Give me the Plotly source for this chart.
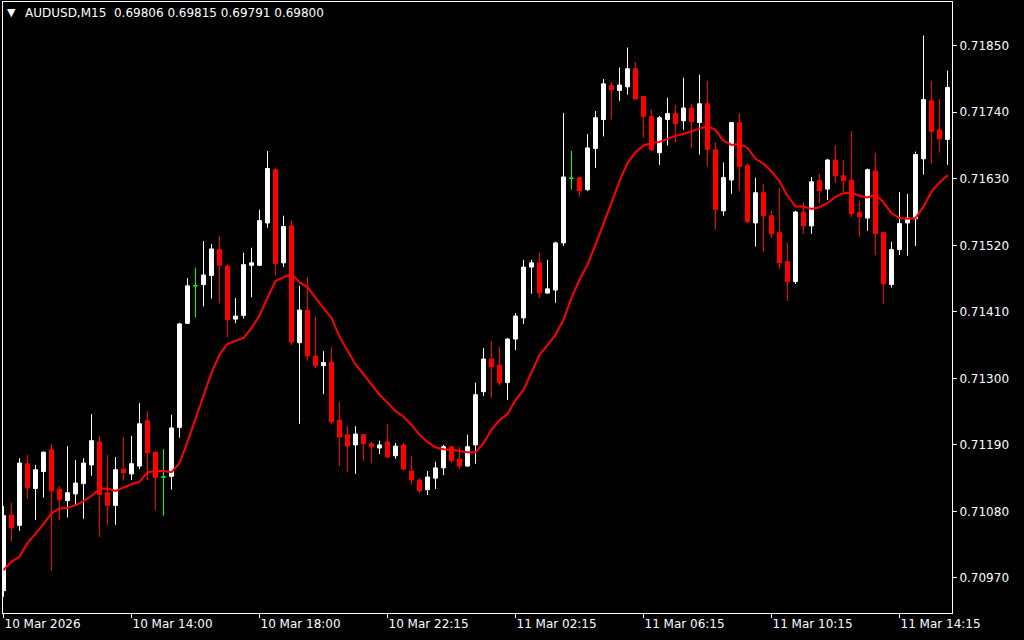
import plotly.graph_objects as go

# ---- data (AUDUSD M15) ----
opens = [0.70949, 0.71074, 0.71057, 0.71159, 0.71118, 0.71146, 0.71182, 0.71117, 0.71098, 0.71109,
         0.71126, 0.71157, 0.71195, 0.71111, 0.71090, 0.71150, 0.71142, 0.71155, 0.71230, 0.71178,
         0.71137, 0.71138, 0.71219, 0.71391, 0.71453, 0.71455, 0.71470, 0.71513, 0.71486, 0.71398,
         0.71404, 0.71487, 0.71487, 0.71557, 0.71645, 0.71491, 0.71552, 0.71359, 0.71413, 0.71337,
         0.71321, 0.71327, 0.71231, 0.71207, 0.71190, 0.71207, 0.71192, 0.71185, 0.71195, 0.71172,
         0.71190, 0.71147, 0.71132, 0.71116, 0.71135, 0.71152, 0.71187, 0.71167, 0.71155, 0.71190,
         0.71278, 0.71332, 0.71322, 0.71293, 0.71365, 0.71400, 0.71484, 0.71491, 0.71441, 0.71446,
         0.71524, 0.71631, 0.71632, 0.71612, 0.71680, 0.71728, 0.71784, 0.71776, 0.71782, 0.71812,
         0.71766, 0.71733, 0.71673, 0.71728, 0.71738, 0.71726, 0.71747, 0.71723, 0.71754, 0.71678,
         0.71577, 0.71628, 0.71723, 0.71652, 0.71557, 0.71607, 0.71569, 0.71541, 0.71493, 0.71460,
         0.71575, 0.71552, 0.71627, 0.71613, 0.71661, 0.71635, 0.71628, 0.71574, 0.71565, 0.71643,
         0.71541, 0.71455, 0.71513, 0.71557, 0.71564, 0.71663, 0.71759, 0.71711, 0.71695]
highs = [0.71089, 0.71094, 0.71168, 0.71173, 0.71157, 0.71179, 0.71192, 0.71122, 0.71188, 0.71165,
         0.71168, 0.71241, 0.71205, 0.71173, 0.71170, 0.71203, 0.71205, 0.71259, 0.71246, 0.71180,
         0.71183, 0.71240, 0.71392, 0.71466, 0.71483, 0.71527, 0.71522, 0.71536, 0.71488, 0.71433,
         0.71508, 0.71516, 0.71579, 0.71676, 0.71647, 0.71569, 0.71561, 0.71453, 0.71468, 0.71402,
         0.71345, 0.71352, 0.71261, 0.71221, 0.71221, 0.71208, 0.71195, 0.71197, 0.71225, 0.71193,
         0.71193, 0.71172, 0.71135, 0.71147, 0.71162, 0.71190, 0.71188, 0.71187, 0.71207, 0.71293,
         0.71350, 0.71362, 0.71352, 0.71367, 0.71408, 0.71496, 0.71496, 0.71508, 0.71496, 0.71526,
         0.71739, 0.71676, 0.71633, 0.71704, 0.71742, 0.71795, 0.71790, 0.71814, 0.71847, 0.71823,
         0.71767, 0.71744, 0.71734, 0.71764, 0.71752, 0.71797, 0.71754, 0.71802, 0.71792, 0.71690,
         0.71657, 0.71724, 0.71738, 0.71655, 0.71632, 0.71622, 0.71577, 0.71615, 0.71524, 0.71577,
         0.71590, 0.71633, 0.71638, 0.71663, 0.71685, 0.71661, 0.71709, 0.71594, 0.71647, 0.71673,
         0.71542, 0.71526, 0.71608, 0.71605, 0.71675, 0.71867, 0.71792, 0.71762, 0.71809]
lows = [0.70939, 0.71030, 0.71048, 0.71101, 0.71066, 0.71103, 0.70982, 0.71065, 0.71070, 0.71090,
        0.71068, 0.71139, 0.71038, 0.71058, 0.71058, 0.71131, 0.71132, 0.71150, 0.71132, 0.71082,
        0.71073, 0.71116, 0.71202, 0.71390, 0.71401, 0.71419, 0.71432, 0.71424, 0.71368, 0.71391,
        0.71399, 0.71434, 0.71486, 0.71549, 0.71470, 0.71484, 0.71355, 0.71225, 0.71329, 0.71317,
        0.71274, 0.71225, 0.71155, 0.71145, 0.71142, 0.71164, 0.71160, 0.71175, 0.71168, 0.71167,
        0.71149, 0.71124, 0.71111, 0.71107, 0.71117, 0.71140, 0.71160, 0.71150, 0.71154, 0.71159,
        0.71271, 0.71268, 0.71288, 0.71264, 0.71347, 0.71390, 0.71440, 0.71433, 0.71440, 0.71425,
        0.71519, 0.71612, 0.71600, 0.71610, 0.71648, 0.71700, 0.71728, 0.71759, 0.71769, 0.71761,
        0.71698, 0.71676, 0.71653, 0.71685, 0.71690, 0.71711, 0.71680, 0.71670, 0.71650, 0.71546,
        0.71569, 0.71605, 0.71610, 0.71557, 0.71518, 0.71509, 0.71532, 0.71481, 0.71428, 0.71456,
        0.71539, 0.71539, 0.71590, 0.71595, 0.71623, 0.71608, 0.71567, 0.71534, 0.71544, 0.71504,
        0.71423, 0.71450, 0.71504, 0.71503, 0.71519, 0.71637, 0.71655, 0.71673, 0.71653]
closes = [0.71073, 0.71053, 0.71160, 0.71119, 0.71149, 0.71178, 0.71114, 0.71100, 0.71111, 0.71127,
          0.71160, 0.71197, 0.71108, 0.71090, 0.71149, 0.71144, 0.71159, 0.71225, 0.71177, 0.71136,
          0.71137, 0.71218, 0.71390, 0.71453, 0.71453, 0.71471, 0.71514, 0.71487, 0.71397, 0.71403,
          0.71488, 0.71491, 0.71561, 0.71647, 0.71490, 0.71551, 0.71360, 0.71413, 0.71337, 0.71321,
          0.71326, 0.71228, 0.71203, 0.71188, 0.71208, 0.71192, 0.71187, 0.71190, 0.71170, 0.71188,
          0.71150, 0.71132, 0.71114, 0.71137, 0.71152, 0.71187, 0.71164, 0.71155, 0.71187, 0.71273,
          0.71332, 0.71319, 0.71293, 0.71365, 0.71403, 0.71484, 0.71491, 0.71441, 0.71448, 0.71524,
          0.71633, 0.71631, 0.71610, 0.71681, 0.71731, 0.71787, 0.71777, 0.71785, 0.71812, 0.71762,
          0.71733, 0.71678, 0.71731, 0.71738, 0.71721, 0.71747, 0.71724, 0.71754, 0.71678, 0.71579,
          0.71632, 0.71723, 0.71650, 0.71559, 0.71607, 0.71569, 0.71539, 0.71491, 0.71460, 0.71575,
          0.71552, 0.71625, 0.71610, 0.71661, 0.71635, 0.71627, 0.71572, 0.71567, 0.71645, 0.71539,
          0.71456, 0.71513, 0.71556, 0.71565, 0.71670, 0.71761, 0.71708, 0.71696, 0.71781]
ma_values = [0.70983, 0.70997, 0.71005, 0.71028, 0.71043, 0.71059, 0.71077, 0.71085, 0.71086, 0.71090,
             0.71097, 0.71106, 0.71117, 0.71118, 0.71114, 0.71120, 0.71125, 0.71129, 0.71145, 0.71147,
             0.71147, 0.71145, 0.71160, 0.71195, 0.71234, 0.71273, 0.71309, 0.71339, 0.71357, 0.71362,
             0.71367, 0.71383, 0.71404, 0.71433, 0.71461, 0.71467, 0.71473, 0.71459, 0.71451, 0.71433,
             0.71417, 0.71400, 0.71369, 0.71346, 0.71323, 0.71307, 0.71289, 0.71273, 0.71260, 0.71246,
             0.71237, 0.71223, 0.71207, 0.71195, 0.71186, 0.71183, 0.71182, 0.71180, 0.71178, 0.71178,
             0.71193, 0.71215, 0.71231, 0.71241, 0.71264, 0.71281, 0.71311, 0.71339, 0.71355, 0.71372,
             0.71397, 0.71433, 0.71463, 0.71488, 0.71521, 0.71554, 0.71590, 0.71626, 0.71656, 0.71674,
             0.71685, 0.71689, 0.71691, 0.71696, 0.71701, 0.71704, 0.71709, 0.71713, 0.71717, 0.71711,
             0.71693, 0.71686, 0.71688, 0.71681, 0.71663, 0.71655, 0.71642, 0.71626, 0.71602, 0.71584,
             0.71584, 0.71580, 0.71583, 0.71590, 0.71600, 0.71606, 0.71607, 0.71602, 0.71599, 0.71604,
             0.71591, 0.71573, 0.71565, 0.71564, 0.71565, 0.71584, 0.71609, 0.71624, 0.71636]

time_tick_bars = [0, 16, 32, 48, 64, 80, 96, 112]
time_tick_labels = ["10 Mar 2026", "10 Mar 14:00", "10 Mar 18:00", "10 Mar 22:15",
                    "11 Mar 02:15", "11 Mar 06:15", "11 Mar 10:15", "11 Mar 14:15"]
price_ticks = [0.70970, 0.71080, 0.71190, 0.71300, 0.71410, 0.71520, 0.71630, 0.71740, 0.71850]
header_symbol = "\u25BC"
header_text = "AUDUSD,M15\u00a0\u00a00.69806 0.69815 0.69791 0.69800"

# ---- figure ----
bars = list(range(len(opens)))
body = [i for i in bars if opens[i] != closes[i]]
doji = [i for i in bars if opens[i] == closes[i]]

FONT = dict(family="DejaVu Sans", size=12, color="#FFFFFF")

fig = go.Figure()
fig.add_trace(go.Candlestick(
    x=body,
    open=[opens[i] for i in body], high=[highs[i] for i in body],
    low=[lows[i] for i in body], close=[closes[i] for i in body],
    increasing=dict(line=dict(color="#FFFFFF", width=1), fillcolor="#FFFFFF"),
    decreasing=dict(line=dict(color="#FF0000", width=1), fillcolor="#FF0000"),
    whiskerwidth=0, showlegend=False, hoverinfo="skip",
))
fig.add_trace(go.Candlestick(
    x=doji,
    open=[opens[i] for i in doji], high=[highs[i] for i in doji],
    low=[lows[i] for i in doji], close=[closes[i] for i in doji],
    increasing=dict(line=dict(color="#00FF00", width=1), fillcolor="#00FF00"),
    decreasing=dict(line=dict(color="#00FF00", width=1), fillcolor="#00FF00"),
    whiskerwidth=0, showlegend=False, hoverinfo="skip",
))
fig.add_trace(go.Scatter(
    x=bars, y=ma_values, mode="lines",
    line=dict(color="#FF0000", width=2), showlegend=False, hoverinfo="skip",
))

fig.update_layout(
    width=1024, height=640,
    margin=dict(l=3, r=72, t=2, b=27),
    paper_bgcolor="#000000", plot_bgcolor="#000000",
    font=FONT,
    showlegend=False,
    xaxis=dict(
        range=[-0.0625, 118.5625],
        rangeslider=dict(visible=False),
        tickmode="array", tickvals=time_tick_bars, ticktext=time_tick_labels,
        ticks="outside", ticklen=4, tickcolor="#FFFFFF", tickwidth=1,
        ticklabelposition="outside right",
        showline=True, linecolor="#FFFFFF", linewidth=1, mirror=True,
        showgrid=False, zeroline=False, tickfont=FONT,
    ),
    yaxis=dict(
        range=[0.7091211, 0.7192228],
        side="right",
        tickmode="array", tickvals=price_ticks,
        ticktext=[f"{v:.5f}" for v in price_ticks],
        ticks="outside", ticklen=4, tickcolor="#FFFFFF", tickwidth=1,
        showline=True, linecolor="#FFFFFF", linewidth=1, mirror=True,
        showgrid=False, zeroline=False, tickfont=FONT,
    ),
    annotations=[
        dict(text=header_symbol, xref="paper", yref="paper", x=0, y=1,
             xanchor="left", yanchor="top", xshift=2, yshift=-2,
             showarrow=False, font=dict(family="DejaVu Sans", size=11, color="#FFFFFF")),
        dict(text=header_text, xref="paper", yref="paper", x=0, y=1,
             xanchor="left", yanchor="top", xshift=20, yshift=-2,
             showarrow=False, font=FONT),
    ],
)

fig.write_html(
    "out.html",
    config={"displayModeBar": False},
    post_script="document.body.style.margin='0px';document.body.style.background='#000000';",
)
